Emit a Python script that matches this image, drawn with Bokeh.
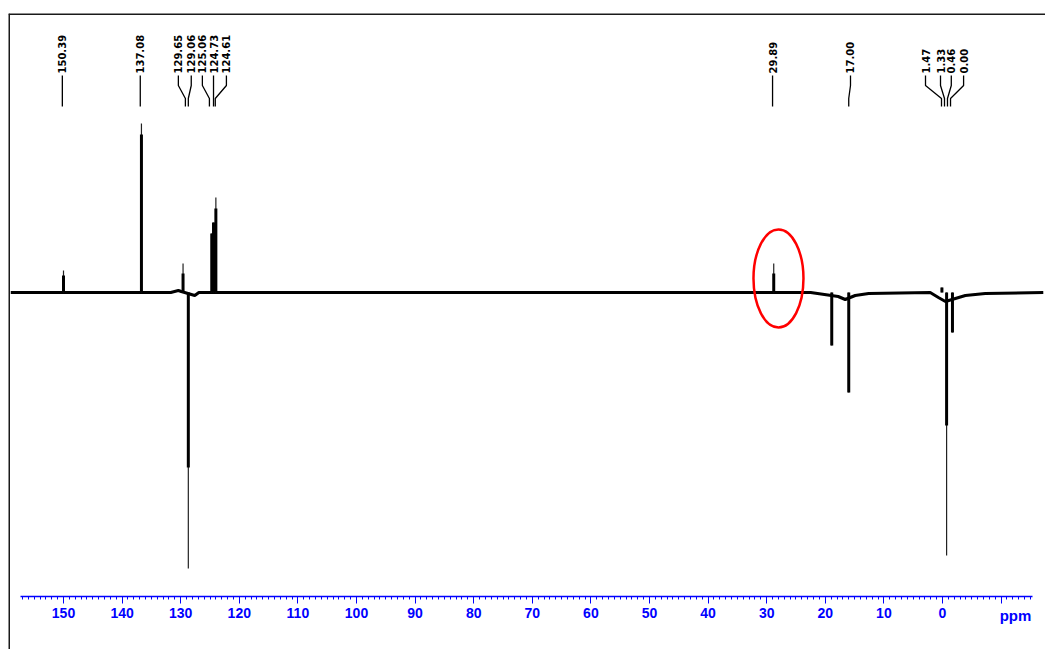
import math
from bokeh.plotting import figure
from bokeh.models import (Range1d, LinearAxis, FixedTicker, Span, Label, ColumnDataSource)
from bokeh.core.properties import value
from bokeh.embed import file_html
from bokeh.resources import INLINE

# ---------------- data ----------------
# baseline of the spectrum (ppm, intensity)
baseline_ppm = [159.0, 131.7, 130.4, 129.9, 127.6, 126.9, 122.5, 22.5, 17.8, 16.6, 14.9, 12.6,
                2.1, 0.7, -0.5, -2.2, -3.9, -7.3, -17.2]
baseline_int = [0, 0, 2, 1, -3, 0, 0, 0, -4, -7, -3, -1,
                0, -5, -9, -6, -3, -1, 0]

# peaks: position, thick body height, thin tip height
peak_ppm = [150.0, 136.7, 129.6, 128.7, 124.7, 124.4, 124.0, 28.8, 18.9, 16.0, 0.1, -0.7, -1.7]
peak_body = [17, 158, 19, -175, 59, 70, 84, 19, -53, -100, 5, -133, -40]
peak_tip = [22, 169, 29, -276, 59, 70, 95, 29, -53, -100, 5, -263, -40]

# assignment labels on top
label_text = ["150.39", "137.08", "129.65", "129.06", "125.06", "124.73", "124.61",
              "29.89", "17.00", "1.47", "1.33", "0.46", "0.00"]
label_pos = [150.2, 136.9, 130.4, 128.2, 126.3, 124.4, 122.2,
             29.0, 15.7, 2.9, 0.34, -1.5, -3.6]
label_target = [150.2, 136.9, 129.2, 128.7, 125.1, 124.4, 124.1,
                29.0, 16.0, 0.17, -0.34, -0.85, -1.37]

tick_values = [150, 140, 130, 120, 110, 100, 90, 80, 70, 60, 50, 40, 30, 20, 10, 0, -10]
minor_values = list(range(-15, 158))

# ---------------- layout constants ----------------
X_START, X_END = 159.386, -17.577
Y_START, Y_END = -357, 279
AXIS_Y = -304
LAB_Y = 219
LEAD_Y = [217, 207, 194, 186]

p = figure(width=1045, height=649, output_backend="svg", toolbar_location=None,
           x_range=Range1d(X_START, X_END), y_range=Range1d(Y_START, Y_END),
           x_axis_location=None, y_axis_location=None,
           min_border_left=8, min_border_right=0, min_border_top=13, min_border_bottom=0)
p.outline_line_color = None
p.background_fill_color = "white"
p.border_fill_color = "white"
p.grid.visible = False

# frame lines (top and left, as in the cropped screenshot)
p.add_layout(Span(location=Y_END, dimension="width", line_color="#1a1a1a", line_width=3))
p.add_layout(Span(location=X_START, dimension="height", line_color="#1a1a1a", line_width=3))

# spectrum
p.line(baseline_ppm, baseline_int, line_color="black", line_width=3)
zeros = [0] * len(peak_ppm)
p.segment(x0=peak_ppm, y0=zeros, x1=peak_ppm, y1=peak_tip, line_color="#222222", line_width=1.2)
p.segment(x0=peak_ppm, y0=zeros, x1=peak_ppm, y1=peak_body, line_color="black", line_width=3)

# leader lines
xs = [[a, a, b, b] for a, b in zip(label_pos, label_target)]
ys = [LEAD_Y for _ in label_pos]
p.multi_line(xs, ys, line_color="black", line_width=1.3)

# labels
src = ColumnDataSource(dict(x=label_pos, y=[LAB_Y] * len(label_pos), t=label_text))
p.text(x="x", y="y", text="t", source=src, angle=math.pi / 2,
       text_align="left", text_baseline="middle",
       text_font=value("DejaVu Sans"), text_font_style="bold",
       text_font_size="10px", text_color="black")

# red ellipse
p.ellipse(x=[27.99], y=[14], width=[8.53], height=[98], fill_color=None,
          line_color="red", line_width=2.5)

# ppm axis
ax = LinearAxis(fixed_location=AXIS_Y)
ax.ticker = FixedTicker(ticks=tick_values, minor_ticks=minor_values)
ax.major_label_overrides = {-10: ""}
ax.bounds = (-15.4, 157.3)
ax.axis_line_color = "#0000ff"
ax.axis_line_width = 1.5
ax.major_tick_line_color = "#0000ff"
ax.minor_tick_line_color = "#0000ff"
ax.major_tick_in = 0
ax.major_tick_out = 7
ax.minor_tick_in = 0
ax.minor_tick_out = 3
ax.major_label_text_color = "#0000ff"
ax.major_label_text_font = "Liberation Sans"
ax.major_label_text_font_style = "bold"
ax.major_label_text_font_size = "14px"
ax.major_label_standoff = 4
p.add_layout(ax, "below")

p.add_layout(Label(x=-12.46, y=-323, text="ppm", text_align="center", text_baseline="middle",
                   text_color="#0000ff", text_font="Liberation Sans", text_font_style="bold",
                   text_font_size="15px"))

open("out.html", "w").write(file_html(p, INLINE))
